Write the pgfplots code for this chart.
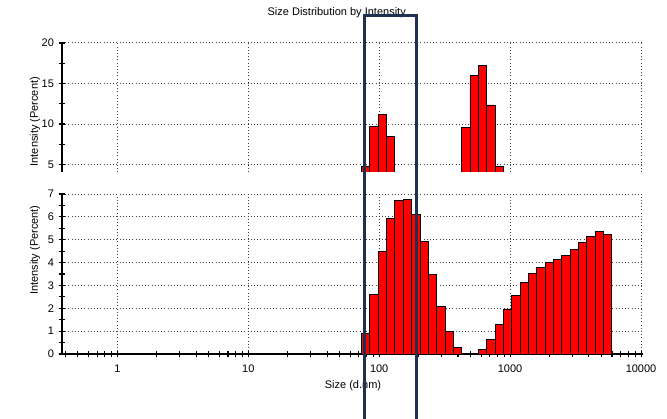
\documentclass[border=0pt]{standalone}
\usepackage{fontspec}
\setmainfont{Liberation Sans}
\usepackage{pgfplots}
\pgfplotsset{compat=1.18}
\definecolor{navy}{HTML}{1E3250}
\pgfplotsset{
  every axis/.append style={
    scale only axis, width=435.75pt,
    axis line style={black, line width=0.8pt},
    tick align=center, major tick length=5pt, minor tick length=4pt,
    tick style={black, line width=0.8pt},
    major grid style={dotted, line width=0.75pt, black!75},
    ticklabel style={font=\fontsize{8.25}{10}\selectfont},
    /pgf/number format/assume math mode=true,
  },
}
\begin{document}
\begin{tikzpicture}[x=0.75pt,y=0.75pt]
\useasboundingbox (0,0) rectangle (667,418);
% top panel
\begin{axis}[xmode=log, xmin=0.378, xmax=10350, grid=major,
  xtick={1,10,100,1000,10000}, axis y line*=left,
  at={(46.5pt,184.5pt)}, anchor=south west, height=96.75pt,
  ymin=4.08, ymax=20, ytick={5,10,15,20}, minor ytick={7.5,12.5,17.5},
  axis x line*=bottom, x axis line style={draw=none},
  xmajorticks=false, xminorticks=false, xticklabels={}]
\addplot[ybar interval, fill=red, draw=black, line width=0.6pt] coordinates {(73.25,4.83) (84.82,9.67) (98.23,11.2) (113.74,8.43) (131.77,8.43)};
\addplot[ybar interval, fill=red, draw=black, line width=0.6pt] coordinates {(426.25,9.55) (493.6,15.95) (571.6,17.27) (662.0,12.36) (766.7,4.71) (887.8,4.71)};
\end{axis}
% bottom panel
\begin{axis}[xmode=log, xmin=0.378, xmax=10350, grid=major,
  xtick={1,10,100,1000,10000}, axis y line*=left,
  at={(46.5pt,48pt)}, anchor=south west, height=120pt,
  ymin=0, ymax=7, ytick={0,1,2,3,4,5,6,7}, minor ytick={0.5,1.5,2.5,3.5,4.5,5.5,6.5},
  axis x line*=bottom,
  xticklabels={1,10,100,1000,10000},
  xticklabel style={yshift=-2pt},
  minor xtick={0.4,0.5,0.6,0.7,0.8,0.9,2,3,4,5,6,7,8,9,20,30,40,50,60,70,80,90,200,300,400,500,600,700,800,900,2000,3000,4000,5000,6000,7000,8000,9000}]
\addplot[ybar interval, fill=red, draw=black, line width=0.6pt] coordinates {(73.25,0.90) (84.82,2.61) (98.23,4.48) (113.74,5.94) (131.77,6.72) (152.59,6.77) (176.66,6.11) (204.63,4.91) (236.97,3.49) (274.42,2.09) (317.81,0.98) (368.09,0.28) (426.25,0.28)};
\addplot[ybar interval, fill=red, draw=black, line width=0.6pt] coordinates {(571.6,0.20) (662.0,0.64) (766.7,1.28) (887.8,1.97) (1027.8,2.58) (1190.4,3.14) (1379.1,3.53) (1596.5,3.79) (1849.3,4.00) (2142.0,4.14) (2480.3,4.32) (2872.4,4.58) (3326.8,4.89) (3851.9,5.16) (4461.5,5.35) (5166.8,5.25) (5983.1,5.25)};
\end{axis}
\node[font=\fontsize{8.25}{10}\selectfont] at (336.7,405) {Size Distribution by Intensity};
\node[rotate=90, font=\fontsize{8.25}{10}\selectfont] at (35,168) {Intensity (Percent)};
\node[rotate=90, font=\fontsize{8.25}{10}\selectfont] at (35,296.3) {Intensity (Percent)};
\node[font=\fontsize{8.25}{10}\selectfont] at (353,32) {Size (d.nm)};
\draw[navy, line width=2.25pt] (364.8,-5) -- (364.8,402.2) -- (416.2,402.2) -- (416.2,-5);
\end{tikzpicture}
\end{document}
